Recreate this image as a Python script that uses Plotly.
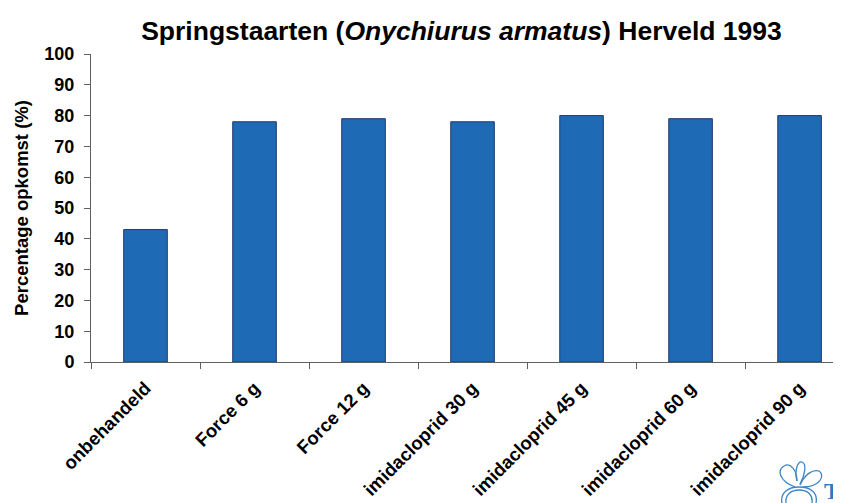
import plotly.graph_objects as go

# Springstaarten (Onychiurus armatus) Herveld 1993 - percentage opkomst
behandelingen = ['onbehandeld', 'Force 6 g', 'Force 12 g', 'imidacloprid 30 g',
                 'imidacloprid 45 g', 'imidacloprid 60 g', 'imidacloprid 90 g']
opkomst = [43, 78, 79, 78, 80, 79, 80]
y_ticks = [0, 10, 20, 30, 40, 50, 60, 70, 80, 90, 100]

FONT = 'Liberation Sans, Arial, sans-serif'
BLUE = '#1e6ab4'

# page has an 8px body margin, so the figure is laid out 8px smaller
W, H = 833, 495
L, T, B = 83, 46, 141
PW, PH = W - L, H - T - B


def px(sx, sy):
    # screen pixel -> paper coords (for the little logo only)
    return (sx - 8 - L) / PW, (H - B - (sy - 8)) / PH


fig = go.Figure()
fig.add_bar(
    x=behandelingen, y=opkomst,
    width=0.4,
    marker=dict(color=BLUE, line=dict(color='#22396f', width=1)),
    showlegend=False,
)

# logo (bottom right, partly cut off)
logo = [
    [('M', (795, 487)), ('C', (779, 481), (777, 470), (784, 466)), ('C', (790, 462), (797, 470), (797, 481))],
    [('M', (797, 481)), ('C', (794, 470), (798, 461), (802, 462)), ('C', (807, 464), (805, 475), (800, 484))],
    [('M', (800, 485)), ('C', (805, 474), (813, 469), (819, 471)), ('C', (826, 476), (819, 487), (803, 487))],
    [('M', (782, 503)), ('C', (780, 493), (788, 487), (799, 487)), ('C', (811, 487), (818, 493), (816, 503))],
    [('M', (786, 503)), ('C', (785, 495), (791, 490), (799, 490)), ('C', (808, 490), (813, 495), (812, 503))],
]
shapes = []
for seg in logo:
    d = ''
    for part in seg:
        d += part[0] + ' '.join('%.4f,%.4f' % px(*p) for p in part[1:]) + ' '
    shapes.append(dict(type='path', xref='paper', yref='paper', path=d.strip(),
                       line=dict(color='#3a86c8', width=1.3)))

fig.update_layout(
    width=W, height=H,
    paper_bgcolor='white', plot_bgcolor='white',
    margin=dict(l=L, r=0, t=T, b=B, autoexpand=False),
    font=dict(family=FONT, color='black'),
    title=dict(
        text='<b>Springstaarten (<i>Onychiurus armatus</i>) Herveld 1993</b>',
        x=453.5 / W, xanchor='center', y=1 - 23 / H, yanchor='middle',
        font=dict(size=26.5, family=FONT, color='black'),
    ),
    xaxis=dict(
        range=[-0.5, 6.38],
        showline=True, linecolor='#606060', linewidth=1,
        ticks='outside', tickson='boundaries', ticklen=6, tickcolor='#606060',
        tickangle=-45, ticklabelstandoff=7,
        tickfont=dict(size=18.5, family=FONT, weight='bold'),
        showgrid=False, zeroline=False, automargin=False,
    ),
    yaxis=dict(
        range=[0, 100],
        tickvals=y_ticks,
        showline=True, linecolor='#606060', linewidth=1,
        ticks='outside', ticklen=6, tickcolor='#606060',
        ticklabelstandoff=6,
        tickfont=dict(size=18, family=FONT, weight='bold'),
        title=dict(text='<b>Percentage opkomst (%)</b>',
                   font=dict(size=18.5, family=FONT), standoff=10),
        showgrid=False, zeroline=False, automargin=False,
    ),
    shapes=shapes,
    annotations=[dict(
        text='T', xref='paper', yref='paper',
        x=px(822, 0)[0], y=px(0, 506)[1], xanchor='left', yanchor='bottom',
        showarrow=False,
        font=dict(size=24, family='Liberation Serif, serif', color='#2a7cc4', weight='bold'),
    )],
)

fig.write_html('out.html')
